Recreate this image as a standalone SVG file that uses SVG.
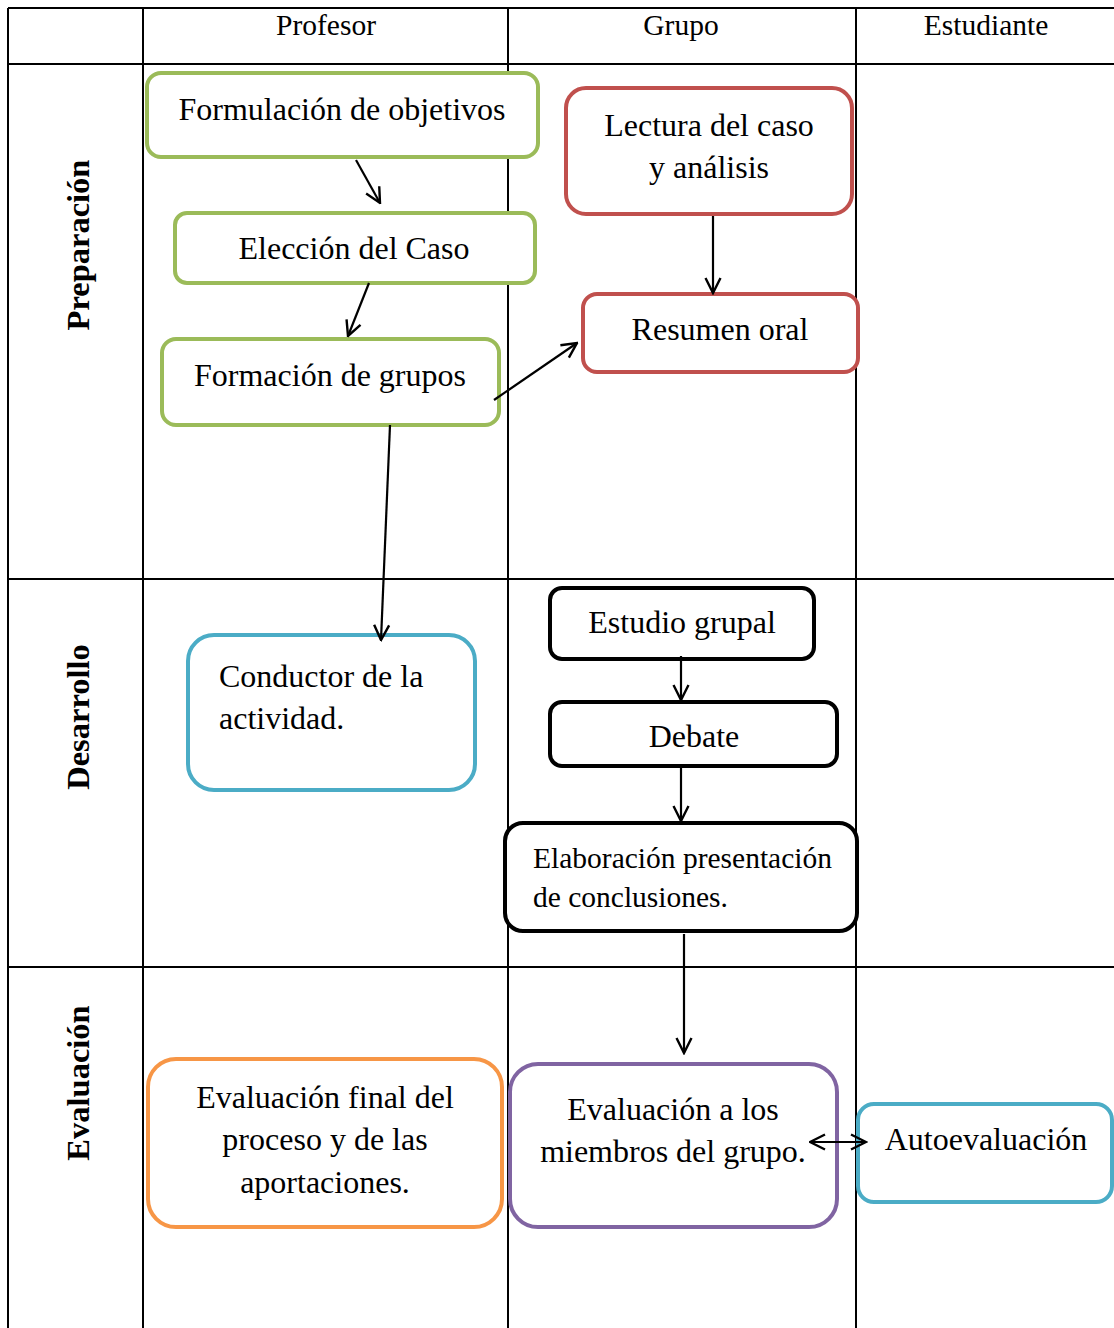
<svg xmlns="http://www.w3.org/2000/svg" width="1114" height="1328" viewBox="0 0 1114 1328">
<style>
text{font-family:"Liberation Serif","Times New Roman",serif;fill:#000}
.hd{font-size:29.5px;text-anchor:middle}
.lane{font-size:32.5px;font-weight:bold;text-anchor:middle}
.t{font-size:32px;text-anchor:middle}
.tl{font-size:32px}
.grid line{stroke:#000;stroke-width:2}
.box{fill:#fff;stroke-width:4}
.g{stroke:#9BBB59}.r{stroke:#C0504D}.b{stroke:#4BACC6}.k{stroke:#000}.o{stroke:#F79646}.p{stroke:#8064A2}
.c line{stroke:#000;stroke-width:2.2;fill:none}
</style>
<defs>
<marker id="ah" viewBox="0 0 12 12" refX="11" refY="6" markerWidth="18" markerHeight="18" markerUnits="userSpaceOnUse" orient="auto-start-reverse">
<path d="M1,1 L11,6 L1,11" fill="none" stroke="#000" stroke-width="1.6"/>
</marker>
</defs>
<rect width="1114" height="1328" fill="#fff"/>
<g id="grid" class="grid">
<line x1="8" y1="8" x2="1114" y2="8"/>
<line x1="8" y1="64" x2="1114" y2="64"/>
<line x1="8" y1="579" x2="1114" y2="579"/>
<line x1="8" y1="967" x2="1114" y2="967"/>
<line x1="8" y1="8" x2="8" y2="1328"/>
<line x1="143" y1="8" x2="143" y2="1328"/>
<line x1="508" y1="8" x2="508" y2="1328"/>
<line x1="856" y1="8" x2="856" y2="1328"/>
</g>
<g id="headers">
<text class="hd" x="326" y="35">Profesor</text>
<text class="hd" x="681" y="35">Grupo</text>
<text class="hd" x="986" y="35">Estudiante</text>
<text class="lane" transform="translate(89,245) rotate(-90)">Preparación</text>
<text class="lane" transform="translate(89,717) rotate(-90)">Desarrollo</text>
<text class="lane" transform="translate(89,1083) rotate(-90)">Evaluación</text>
</g>
<g id="n1"><rect class="box g" x="147" y="73" width="391" height="84" rx="14"/><text class="t" x="342" y="120">Formulación de objetivos</text></g>
<g id="n2"><rect class="box g" x="175" y="213" width="360" height="70" rx="12"/><text class="t" x="354" y="259">Elección del Caso</text></g>
<g id="n3"><rect class="box g" x="162" y="339" width="337" height="86" rx="14"/><text class="t" x="330" y="386">Formación de grupos</text></g>
<g id="n4"><rect class="box r" x="566" y="88" width="286" height="126" rx="20"/><text class="t" x="709" y="136">Lectura del caso</text><text class="t" x="709" y="178">y análisis</text></g>
<g id="n5"><rect class="box r" x="583" y="294" width="275" height="78" rx="14"/><text class="t" x="720" y="340">Resumen oral</text></g>
<g id="n6"><rect class="box b" x="188" y="635" width="287" height="155" rx="26"/><text class="tl" x="219" y="687">Conductor de la</text><text class="tl" x="219" y="729">actividad.</text></g>
<g id="n7"><rect class="box k" x="550" y="588" width="264" height="71" rx="12"/><text class="t" x="682" y="633">Estudio grupal</text></g>
<g id="n8"><rect class="box k" x="550" y="702" width="287" height="64" rx="12"/><text class="t" x="694" y="747">Debate</text></g>
<g id="n9"><rect class="box k" x="505" y="823" width="352" height="108" rx="18"/><text class="tl" x="533" y="868" style="font-size:29.5px">Elaboración presentación</text><text class="tl" x="533" y="907" style="font-size:29.5px">de conclusiones.</text></g>
<g id="n10"><rect class="box o" x="148" y="1059" width="354" height="168" rx="28"/><text class="t" x="325" y="1108">Evaluación final del</text><text class="t" x="325" y="1150">proceso y de las</text><text class="t" x="325" y="1193">aportaciones.</text></g>
<g id="n11"><rect class="box p" x="510" y="1064" width="327" height="163" rx="28"/><text class="t" x="673" y="1120">Evaluación a los</text><text class="t" x="673" y="1162">miembros del grupo.</text></g>
<g id="n12"><rect class="box b" x="858" y="1104" width="254" height="98" rx="16"/><text class="t" x="986" y="1150">Autoevaluación</text></g>
<g id="connectors" class="c">
<line x1="356" y1="160" x2="380" y2="203" marker-end="url(#ah)"/>
<line x1="369" y1="283" x2="348" y2="336" marker-end="url(#ah)"/>
<line x1="494" y1="400" x2="577" y2="343" marker-end="url(#ah)"/>
<line x1="713" y1="216" x2="713" y2="293" marker-end="url(#ah)"/>
<line x1="390" y1="425" x2="381" y2="640" marker-end="url(#ah)"/>
<line x1="681" y1="656" x2="681" y2="700" marker-end="url(#ah)"/>
<line x1="681" y1="768" x2="681" y2="821" marker-end="url(#ah)"/>
<line x1="684" y1="934" x2="684" y2="1053" marker-end="url(#ah)"/>
<line x1="810" y1="1142" x2="866" y2="1142" marker-start="url(#ah)" marker-end="url(#ah)"/>
</g>
</svg>
